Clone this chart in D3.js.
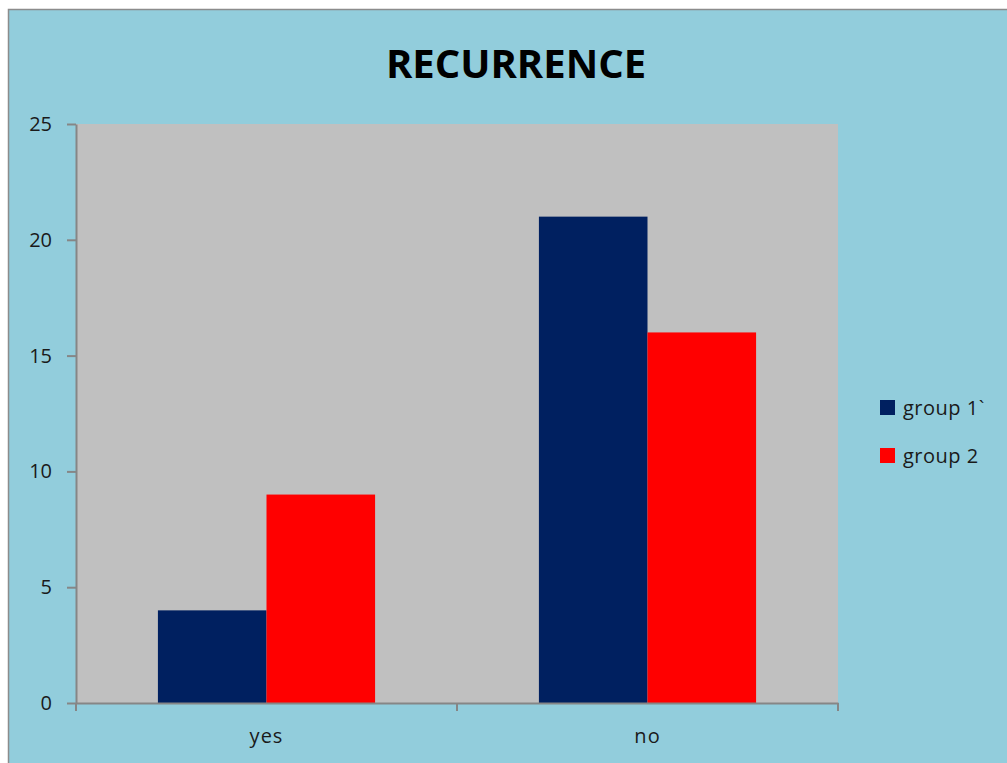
<!DOCTYPE html>
<html>
<head>
<meta charset="utf-8">
<script src="https://cdn.jsdelivr.net/npm/d3@7"></script>
<style>
  body { margin: 0; background: #fff; }
  svg { display: block; }
</style>
</head>
<body>
<script>
// data
const categories = ['yes', 'no'];
const seriesNames = ['group 1`', 'group 2'];
const group1 = [4, 21];
const group2 = [9, 16];
const yTicks = [0, 5, 10, 15, 20, 25];
const colors = ['#002060', '#FF0000'];

const W = 1007, H = 763;
const svg = d3.select('body').append('svg').attr('width', W).attr('height', H);

// chart area
svg.append('rect')
  .attr('x', 8.5).attr('y', 9.5)
  .attr('width', W + 10).attr('height', H + 10)
  .attr('fill', '#92CDDC')
  .attr('stroke', '#8c8c8c').attr('stroke-width', 1.5);

const plot = { left: 76, right: 838, top: 124, bottom: 703 };

svg.append('rect')
  .attr('x', plot.left).attr('y', plot.top)
  .attr('width', plot.right - plot.left).attr('height', plot.bottom - plot.top)
  .attr('fill', '#C0C0C0');

const x = d3.scaleBand().domain(categories)
  .range([plot.left, plot.right])
  .paddingInner(0.43).paddingOuter(0.215);
const xs = d3.scaleBand().domain(seriesNames).range([0, x.bandwidth()]);
const y = d3.scaleLinear().domain([0, 25]).range([plot.bottom, plot.top]);

const rows = categories.map((c, i) => ({ cat: c, vals: [group1[i], group2[i]] }));

svg.append('g').selectAll('g')
  .data(rows)
  .join('g')
  .attr('transform', d => `translate(${x(d.cat)},0)`)
  .selectAll('rect')
  .data(d => d.vals.map((v, j) => ({ name: seriesNames[j], v: v, j: j })))
  .join('rect')
  .attr('x', d => xs(d.name))
  .attr('y', d => y(d.v))
  .attr('width', xs.bandwidth())
  .attr('height', d => y(0) - y(d.v))
  .attr('fill', d => colors[d.j]);

const axisColor = '#868686';
const font = 'Open Sans, DejaVu Sans, sans-serif';

// y axis
const ya = svg.append('g')
  .attr('transform', `translate(${plot.left},0)`)
  .call(d3.axisLeft(y).tickValues(yTicks).tickSize(9).tickPadding(15).tickSizeOuter(0));
ya.select('.domain').attr('stroke', axisColor).attr('stroke-width', 2);
ya.selectAll('.tick line').attr('stroke', axisColor).attr('stroke-width', 2);
ya.selectAll('.tick text').attr('fill', '#1a1a1a')
  .style('font-family', font).style('font-size', '20px');

// x axis, with ticks on the category boundaries
const xa = svg.append('g')
  .attr('transform', `translate(0,${plot.bottom})`)
  .call(d3.axisBottom(x).tickSize(0).tickPadding(26));
xa.select('.domain').attr('stroke', axisColor).attr('stroke-width', 2);
xa.selectAll('.tick text').attr('fill', '#1a1a1a')
  .style('font-family', font).style('font-size', '20px')
  .style('letter-spacing', '1px');
const bounds = [plot.left, x(categories[1]) - x.step() * x.paddingInner() / 2, plot.right];
xa.selectAll('.bnd')
  .data(bounds)
  .join('line')
  .attr('class', 'bnd')
  .attr('x1', d => d).attr('x2', d => d)
  .attr('y1', 0).attr('y2', 8)
  .attr('stroke', axisColor).attr('stroke-width', 2);

// title
svg.append('text')
  .attr('x', 516).attr('y', 78)
  .attr('text-anchor', 'middle')
  .style('font-family', font).style('font-weight', 'bold').style('font-size', '40px')
  .attr('fill', '#000')
  .text('RECURRENCE');

// legend
const lg = svg.append('g').attr('transform', 'translate(880,400)');
const item = lg.selectAll('g')
  .data(seriesNames)
  .join('g')
  .attr('transform', (d, i) => `translate(0,${i * 48})`);
item.append('rect')
  .attr('width', 15).attr('height', 15)
  .attr('fill', (d, i) => colors[i]);
item.append('text')
  .attr('x', 23).attr('y', 15)
  .style('font-family', font).style('font-size', '20px')
  .style('letter-spacing', '0.5px')
  .attr('fill', '#1a1a1a')
  .text(d => d);
</script>
</body>
</html>
